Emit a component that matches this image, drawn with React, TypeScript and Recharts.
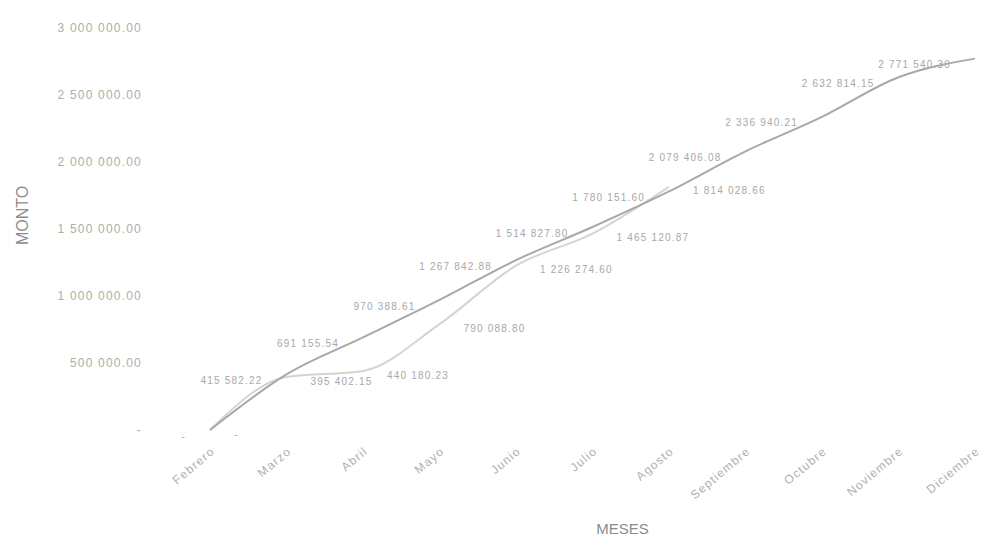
import React from "react";
import { LineChart, Line, XAxis, YAxis, LabelList, Label } from "recharts";

const months = ["Febrero", "Marzo", "Abril", "Mayo", "Junio", "Julio", "Agosto", "Septiembre", "Octubre", "Noviembre", "Diciembre"];
const montoA = [0, 415582.22, 691155.54, 970388.61, 1267842.88, 1514827.8, 1780151.6, 2079406.08, 2336940.21, 2632814.15, 2771540.3];
const montoB = [0, 395402.15, 440180.23, 790088.8, 1226274.6, 1465120.87, 1814028.66, null, null, null, null];
const yTicks = [0, 500000, 1000000, 1500000, 2000000, 2500000, 3000000];

const data = months.map((m, i) => ({ mes: m, a: montoA[i], b: montoB[i] }));

function fmt(v: any) {
  if (v === null || v === undefined) return "";
  if (Number(v) === 0) return "-";
  const [ent, dec] = Number(v).toFixed(2).split(".");
  return ent.replace(/\B(?=(\d{3})+(?!\d))/g, " ") + "." + dec;
}

export default function App() {
  return (
    <div style={{ position: "absolute", left: 0, top: 0, width: 989, height: 551, background: "#fff" }}>
      <LineChart
        width={989}
        height={551}
        data={data}
        margin={{ top: 28, right: 14, bottom: 31, left: 0 }}
        style={{ fontFamily: "Liberation Sans, Arial, sans-serif" }}
      >
        <XAxis
          dataKey="mes"
          scale="point"
          padding={{ left: 60, right: 0 }}
          height={90}
          axisLine={false}
          tickLine={false}
          interval={0}
          angle={-40}
          textAnchor="end"
          dy={8}
          tick={{ fill: "#b0b0b0", fontSize: 12, letterSpacing: 1.2 }}
        >
          <Label value="MESES" position="insideBottom" offset={-14} dx={60} fill="#8c8c8c" fontSize={15} />
        </XAxis>
        <YAxis
          width={150}
          domain={[0, 3000000]}
          ticks={yTicks}
          axisLine={false}
          tickLine={false}
          tickFormatter={fmt}
          tick={{ fill: "#adadad", fontSize: 12, letterSpacing: 1.2 }}
        >
          <Label value="MONTO" angle={-90} position="insideLeft" offset={22} dy={16} fill="#8c8c8c" fontSize={16} />
        </YAxis>
        <Line
          type="monotone"
          dataKey="b"
          stroke="#d4d4d4"
          strokeWidth={2}
          dot={false}
          connectNulls={false}
          isAnimationActive={false}
        >
          <LabelList dataKey="b" position="right" offset={24} dy={4} formatter={fmt} fill="#a8a8a8" fontSize={10} letterSpacing={1.2} />
        </Line>
        <Line
          type="monotone"
          dataKey="a"
          stroke="#a8a8a8"
          strokeWidth={2}
          dot={false}
          isAnimationActive={false}
        >
          <LabelList dataKey="a" position="left" offset={24} dy={6} formatter={fmt} fill="#a8a8a8" fontSize={10} letterSpacing={1.2} />
        </Line>
      </LineChart>
    </div>
  );
}
